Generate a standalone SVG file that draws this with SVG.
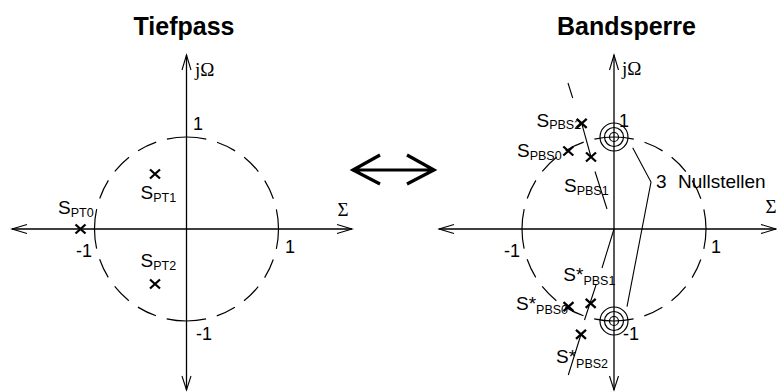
<svg xmlns="http://www.w3.org/2000/svg" xmlns:xlink="http://www.w3.org/1999/xlink" width="777" height="392" viewBox="0 0 777 392">
<style>
  .bg{fill:#fff}
  .ax{stroke:#000;stroke-width:1.3;fill:none}
  .ah{stroke:#000;stroke-width:1.1;fill:none}
  .dc{stroke:#000;stroke-width:1.2;fill:none;stroke-dasharray:20 11.125}
  .ln{stroke:#000;stroke-width:1.1;fill:none}
  .ring{stroke:#000;stroke-width:1.2;fill:none}
  .big{stroke:#000;stroke-width:3.2;fill:none;stroke-linecap:butt}
  text{font-family:"Liberation Sans",Arial,sans-serif;fill:#000}
  .title{font-size:25px;font-weight:bold;text-anchor:middle}
  .num{font-size:18px}
  .lab{font-size:19px}
  .sub{font-size:12.5px}
  .gr{font-family:"Liberation Serif","Times New Roman",serif;font-size:19px}
</style>
<defs>
  <path id="x" d="M-5,-4.5 L5,4.5 M-5,4.5 L5,-4.5" stroke="#000" stroke-width="2.3" fill="none"/>
</defs>
<rect class="bg" x="0" y="0" width="777" height="392"/>

<text class="title" x="184" y="35">Tiefpass</text>
<text class="title" x="626.5" y="35">Bandsperre</text>

<!-- Tiefpass axes -->
<g id="tp-axes">
  <path class="ax" d="M186.5,55 V390 M12,229 H352"/>
  <path class="ah" d="M182,70 L186.5,55 L191,70 M182,376 L186.5,390 L191,376 M27,224.5 L12,229 L27,233.5 M337,224.5 L352,229 L337,233.5"/>
  <text class="gr" x="195" y="76">jΩ</text>
  <text class="gr" x="343" y="216" text-anchor="middle">Σ</text>
  <text class="num" x="193" y="130">1</text>
  <text class="num" x="285" y="253">1</text>
  <text class="num" x="76" y="257">-1</text>
  <text class="num" x="196" y="340">-1</text>
</g>
<g id="tp-circle">
  <path class="dc" d="M186.5,137 A92,92 0 0 1 278.5,229"/>
  <path class="dc" d="M278.5,229 A92,92 0 0 1 186.5,321"/>
  <path class="dc" d="M186.5,321 A92,92 0 0 1 94.5,229"/>
  <path class="dc" d="M94.5,229 A92,92 0 0 1 186.5,137"/>
</g>
<g id="S_PT0">
  <use xlink:href="#x" x="80.5" y="229"/>
  <text class="lab" x="58" y="214">S<tspan class="sub" dy="3">PT0</tspan></text>
</g>
<g id="S_PT1">
  <use xlink:href="#x" x="155" y="174"/>
  <text class="lab" x="140.5" y="199">S<tspan class="sub" dy="3">PT1</tspan></text>
</g>
<g id="S_PT2">
  <use xlink:href="#x" x="155" y="284"/>
  <text class="lab" x="140.5" y="267">S<tspan class="sub" dy="3">PT2</tspan></text>
</g>

<!-- equivalence arrow -->
<g id="equiv">
  <path class="big" d="M352,170 H435 M380,155 L353,170 L380,184 M407,155 L434,170 L407,184"/>
</g>

<!-- Bandsperre axes -->
<g id="bs-axes">
  <path class="ax" d="M614,55 V390 M439,229 H776"/>
  <path class="ah" d="M609.5,70 L614,55 L618.5,70 M609.5,376 L614,390 L618.5,376 M454,224.5 L439,229 L454,233.5 M761,224.5 L776,229 L761,233.5"/>
  <text class="gr" x="622" y="75">jΩ</text>
  <text class="gr" x="771" y="213" text-anchor="middle">Σ</text>
  <text class="num" x="619" y="127">1</text>
  <text class="num" x="711" y="253">1</text>
  <text class="num" x="504" y="257">-1</text>
  <text class="num" x="623" y="340">-1</text>
</g>
<g id="bs-circle">
  <path class="dc" d="M614,137 A92,92 0 0 1 706,229"/>
  <path class="dc" d="M706,229 A92,92 0 0 1 614,321"/>
  <path class="dc" d="M614,321 A92,92 0 0 1 522,229"/>
  <path class="dc" d="M522,229 A92,92 0 0 1 614,137"/>
</g>
<g id="connectors">
  <path class="ln" d="M568,83 L572.7,98 M581.7,123.3 L591,157 M595,171.5 L607,209"/>
  <path class="ln" d="M614,229 L602,268 M596,285 L584.5,320 M580.5,336 L568.3,375"/>
  <path class="ln" d="M632.7,147.7 L651,182 L627,306.7"/>
</g>
<g id="zero-top">
  <circle class="ring" cx="614" cy="137" r="14"/>
  <circle class="ring" cx="614" cy="137" r="9.5"/>
  <circle class="ring" cx="614" cy="137" r="4.5"/>
</g>
<g id="zero-bottom">
  <circle class="ring" cx="614" cy="321" r="14"/>
  <circle class="ring" cx="614" cy="321" r="9.5"/>
  <circle class="ring" cx="614" cy="321" r="4.5"/>
</g>
<g id="nullstellen">
  <text class="lab" x="656" y="188">3</text>
  <text class="lab" x="678" y="188">Nullstellen</text>
</g>
<g id="S_PBS2">
  <use xlink:href="#x" x="581.7" y="123.3"/>
  <text class="lab" x="536.5" y="127">S<tspan class="sub" dy="2">PBS2</tspan></text>
</g>
<g id="S_PBS0">
  <use xlink:href="#x" x="568.3" y="151"/>
  <text class="lab" x="517" y="157">S<tspan class="sub" dy="3">PBS0</tspan></text>
</g>
<g id="S_PBS1">
  <use xlink:href="#x" x="591" y="157"/>
  <text class="lab" x="564" y="192">S<tspan class="sub" dy="3">PBS1</tspan></text>
</g>
<g id="S_PBS1c">
  <use xlink:href="#x" x="590.7" y="303.3"/>
  <text class="lab" x="563.3" y="281">S*<tspan class="sub" dy="4">PBS1</tspan></text>
</g>
<g id="S_PBS0c">
  <use xlink:href="#x" x="568.5" y="306.7"/>
  <text class="lab" x="516" y="310">S*<tspan class="sub" dy="4">PBS0</tspan></text>
</g>
<g id="S_PBS2c">
  <use xlink:href="#x" x="581" y="334.3"/>
  <text class="lab" x="556" y="363">S*<tspan class="sub" dy="5">PBS2</tspan></text>
</g>
</svg>
